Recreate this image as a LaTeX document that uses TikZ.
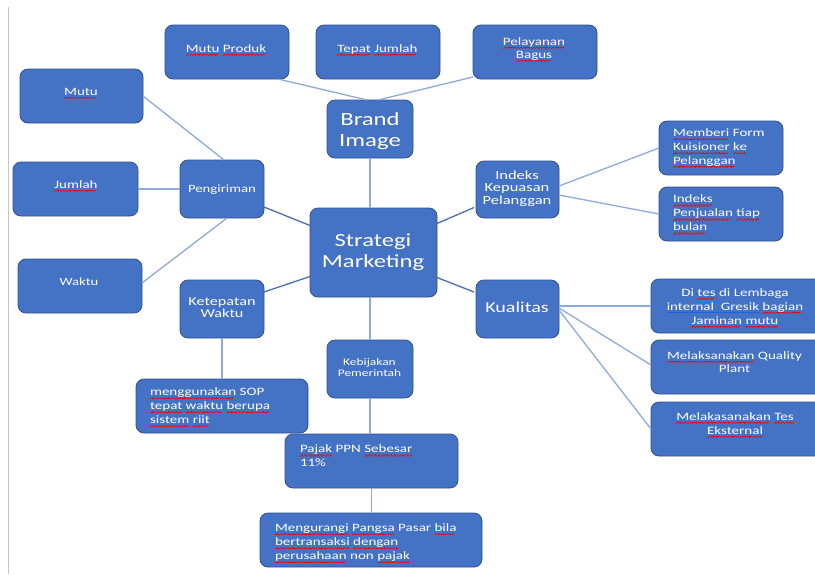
\documentclass[tikz,border=0pt]{standalone}
\usepackage{fontspec}
\setmainfont{Carlito}[FakeStretch=1.33]
\usetikzlibrary{calc}

\definecolor{cardfill}{HTML}{4472C4}
\definecolor{cardedge}{HTML}{2F528F}
\definecolor{linklight}{HTML}{8EAADB}
\definecolor{linkdark}{HTML}{4A6EB4}
\definecolor{pagerule}{HTML}{C8C8C8}
\definecolor{spellred}{HTML}{E01010}
\definecolor{grammarblue}{HTML}{2060E0}

% wavy red underline for flagged words, straight blue one for grammar marks
\newbox\sqbox
\newcommand\wavebit{\rule[-3.6pt]{0.8pt}{0.8pt}\rule[-3.0pt]{0.8pt}{0.8pt}\rule[-2.4pt]{0.8pt}{0.8pt}\rule[-3.0pt]{0.8pt}{0.8pt}}
\newcommand\sq[1]{\setbox\sqbox=\hbox{#1}\leavevmode
  \rlap{\textcolor{spellred}{\leaders\hbox{\wavebit}\hskip\wd\sqbox}}\box\sqbox}
\newcommand\gr[1]{\setbox\sqbox=\hbox{#1}\leavevmode
  \rlap{\textcolor{grammarblue}{\rule[-2.8pt]{\wd\sqbox}{0.7pt}}}\box\sqbox}

% a rounded card spanning (x1,y1)-(x2,y2)
\newcommand\card[5]{%
  \node[card, minimum width={(#4-#2)*1pt}, minimum height={(#5-#3)*1pt}]
    (#1) at ({(#2+#4)/2},{(#3+#5)/2}) {};}

\tikzset{
  card/.style={rectangle, rounded corners=8pt, fill=cardfill, draw=cardedge,
    line width=0.8pt, inner sep=0pt, outer sep=0pt},
  txt/.style={text=white, inner sep=0pt, outer sep=0pt,
    font=\fontsize{11.3}{14}\selectfont},
  link/.style={draw=linklight, line width=1.3pt},
  hub/.style={draw=linkdark, line width=1.3pt},
}

\begin{document}
\begin{tikzpicture}[x=1pt, y=-1pt]
\useasboundingbox (0,0) rectangle (815,574);
\clip (0,0) rectangle (815,574);
\fill[white] (0,0) rectangle (815,574);

% page margin rule
\coordinate (rtop) at (8.5,7);
\coordinate (rbot) at (8.5,574);
\draw[pagerule, line width=1.6pt] (rtop) -- (rbot);

% cards
\card{mp}{165}{25}{289}{79}
\card{tj}{316}{25}{440}{79}
\card{pb}{473}{25}{597}{79}
\card{brand}{327}{100}{413}{158}
\card{mutu}{20}{69}{143}{123}
\card{jumlah}{13}{162}{138}{216}
\card{peng}{180}{160}{264}{218}
\card{waktu}{18}{259}{142}{313}
\card{strat}{310}{208}{437}{297}
\card{ket}{180}{280}{264}{338}
\card{sop}{136}{379}{308}{433}
\card{keb}{327}{340}{413}{398}
\card{pajak}{285}{434}{458}{488}
\card{meng}{260}{513}{482}{567}
\card{ikp}{476}{161}{559}{218}
\card{memberi}{659}{121}{783}{175}
\card{ipj}{659}{187}{783}{241}
\card{kual}{476}{280}{559}{338}
\card{dites}{651}{279}{824}{333}
\card{qp}{651}{340}{824}{394}
\card{te}{651}{402}{824}{456}

% connectors
\draw[link] ($(mp.south east)+(-11,0)$) -- ($(brand.north)+(-3,0)$);
\draw[link] ($(brand.north)+(4,0)$) -- ($(brand.north)+(4,0)$ |- tj.south);
\draw[link] ($(pb.south west)+(0,-2)$) -- ($(brand.north)+(8,0)$);
\draw[link] (brand.south) -- (brand.south |- strat.north);
\draw[link] (mutu.east) -- ($(peng.north)+(2,0)$);
\draw[link] (jumlah.east) -- (peng.west);
\draw[link] ($(waktu.east)+(0,-3)$) -- ($(peng.south)+(5,0)$);
\draw[hub] ($(peng.east)+(0,18)$) -- ($(strat.west)+(0,-27)$);
\draw[hub] ($(ket.east)+(0,-17)$) -- ($(strat.west)+(0,24)$);
\draw[link] (ket.south) -- (ket.south |- sop.north);
\draw[link] (keb.north) -- (keb.north |- strat.south);
\draw[link] (keb.south) -- (keb.south |- pajak.north);
\draw[link] (pajak.south) -- (pajak.south |- meng.north);
\draw[hub] ($(strat.east)+(0,-29)$) -- ($(ikp.west)+(-2,18)$);
\draw[hub] ($(strat.east)+(0,25)$) -- ($(kual.west)+(-2,-17)$);
\draw[link] ($(ikp.east)+(0,-3.5)$) -- (memberi.west);
\draw[link] ($(ikp.east)+(0,5.5)$) -- (ipj.west);
\draw[link] ($(kual.east)+(0,-3)$) -- (dites.west);
\draw[link] ($(kual.east)+(0,-1)$) -- ($(qp.west)+(0,-2)$);
\draw[link] ($(kual.east)+(0,1)$) -- (te.west);

% labels (multi-line labels sit on the baseline of their last line)
\node[txt, anchor=base] (mp-t) at (226,52) {\sq{Mutu} \sq{Produk}};
\node[txt, anchor=base] (tj-t) at (377.5,52) {\sq{Tepat} \sq{Jumlah}};
\node[txt, anchor=base, align=center, font=\fontsize{11.3}{13}\selectfont] (pb-t) at (534,58) {\sq{Pelayanan}\\\sq{Bagus}};
\node[txt, anchor=base, align=center, font=\fontsize{18.6}{20.5}\selectfont] (brand-t) at (370,146) {Brand\\Image};
\node[txt, anchor=base] (mutu-t) at (81,95) {\sq{Mutu}};
\node[txt, anchor=base] (jumlah-t) at (76,188) {\sq{Jumlah}};
\node[txt, anchor=base, font=\fontsize{11.1}{13}\selectfont] (peng-t) at (222,192) {Pengiriman};
\node[txt, anchor=base, font=\fontsize{11}{13}\selectfont] (waktu-t) at (79,285) {Waktu};
\node[txt, anchor=base, align=center, font=\fontsize{18.5}{20.3}\selectfont] (strat-t) at (373,267) {Strategi\\Marketing};
\node[txt, anchor=base, align=center, font=\fontsize{12.2}{12}\selectfont] (ket-t) at (222,317.5) {Ketepatan\\Waktu};
\node[txt, anchor=base west, align=left] (sop-t) at (150,423.5) {\sq{menggunakan} SOP\\\sq{tepat} \sq{waktu} \sq{berupa}\\\sq{sistem} \sq{riit}};
\node[txt, anchor=base, align=center, font=\fontsize{10.1}{11}\selectfont] (keb-t) at (369.5,376) {Kebijakan\\Pemerintah};
\node[txt, anchor=base west, align=left] (pajak-t) at (300,466.7) {\sq{Pajak} PPN \sq{Sebesar}\\11\%};
\node[txt, anchor=base west, align=left] (meng-t) at (275,559.3) {\sq{Mengurangi} \sq{Pangsa} Pasar \sq{bila}\\\sq{bertransaksi} \sq{dengan}\\\sq{perusahaan} non \sq{pajak}};
\node[txt, anchor=base, align=center, font=\fontsize{12.4}{12.7}\selectfont] (ikp-t) at (517,204.5) {Indeks\\Kepuasan\\Pelanggan};
\node[txt, anchor=base west, align=left, font=\fontsize{11.3}{13.7}\selectfont] (memberi-t) at (673,164) {\sq{Memberi} Form\\\sq{Kuisioner} \sq{ke}\\\sq{Pelanggan}};
\node[txt, anchor=base west, align=left] (ipj-t) at (673,230.7) {\sq{Indeks}\\\sq{Penjualan} \sq{tiap}\\\sq{bulan}};
\node[txt, anchor=base, font=\fontsize{15.1}{17}\selectfont] (kual-t) at (517,312) {Kualitas};
\node[txt, anchor=base, align=center] (dites-t) at (735,324) {Di \sq{tes} di Lembaga\\\gr{internal~~Gresik} \sq{bagian}\\\sq{Jaminan} \sq{mutu}};
\node[txt, anchor=base, align=center, font=\fontsize{11.3}{13}\selectfont] (qp-t) at (734.5,372) {\sq{Melaksanakan} Quality\\Plant};
\node[txt, anchor=base, align=center] (te-t) at (735,434) {\sq{Melakasanakan} \sq{Tes}\\\sq{Eksternal}};
\end{tikzpicture}
\end{document}
